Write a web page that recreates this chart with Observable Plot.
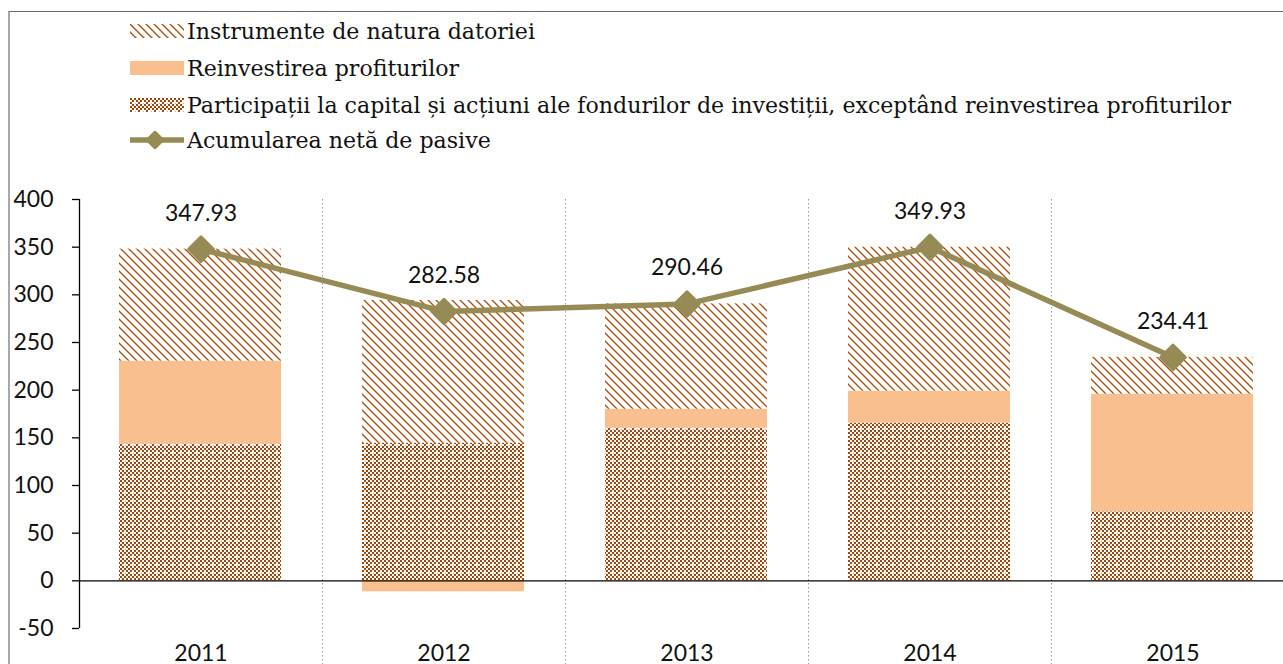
<!DOCTYPE html>
<html>
<head>
<meta charset="utf-8">
<script src="https://cdn.jsdelivr.net/npm/d3@7"></script>
<script src="https://cdn.jsdelivr.net/npm/@observablehq/plot@0.6"></script>
<style>
  html, body { margin: 0; padding: 0; background: #fff; overflow: hidden; width: 1283px; height: 664px; }
  #frame { position: absolute; left: 8px; top: 11px; width: 1400px; height: 800px; border-left: 2px solid #a8a8a8; border-top: 1px solid #6a6a6a; }
  .lg { position: absolute; left: 130px; height: 30px; display: flex; align-items: center; font-family: "DejaVu Serif", serif; font-size: 22.1px; color: #111; white-space: nowrap; }
  .lg svg { margin-right: 3px; }
  #chart { position: absolute; left: 0; top: 160px; width: 1294px; }
  #chart svg { max-width: none !important; }
</style>
</head>
<body>
<svg width="0" height="0" style="position:absolute">
  <defs>
    <pattern id="pDebt" width="8" height="8" patternUnits="userSpaceOnUse">
      <rect width="8" height="8" fill="#fff"/>
      <path d="M-2,-2L10,10M-2,6L2,10M6,-2L10,2" stroke="#A84C0E" stroke-width="1.3"/>
    </pattern>
    <pattern id="pPart" width="8" height="8" patternUnits="userSpaceOnUse">
      <rect width="8" height="8" fill="#fff"/>
      <rect x="0" y="0" width="2" height="2" fill="#A04608"/>
      <rect x="4" y="0" width="2" height="2" fill="#A04608"/>
      <rect x="2" y="2" width="2" height="2" fill="#A04608"/>
      <rect x="6" y="2" width="2" height="2" fill="#A04608"/>
      <rect x="0" y="4" width="2" height="2" fill="#A04608"/>
      <rect x="2" y="6" width="2" height="2" fill="#A04608"/>
      <rect x="6" y="6" width="2" height="2" fill="#A04608"/>
      <rect x="5" y="5" width="1" height="1" fill="#D9A57C"/>
    </pattern>
  </defs>
</svg>
<div id="frame"></div>
<div class="lg" style="top:16px"><svg width="54" height="14"><rect width="54" height="14" fill="url(#pDebt)"/></svg><span>Instrumente de natura datoriei</span></div>
<div class="lg" style="top:53px"><svg width="54" height="14"><rect width="54" height="14" fill="#F9BF8F"/></svg><span>Reinvestirea profiturilor</span></div>
<div class="lg" style="top:90px"><svg width="54" height="14"><rect width="54" height="14" fill="url(#pPart)"/></svg><span>Participații la capital și acțiuni ale fondurilor de investiții, exceptând reinvestirea profiturilor</span></div>
<div class="lg" style="top:125px"><svg width="54" height="24"><line x1="0" x2="54" y1="12" y2="12" stroke="#968B55" stroke-width="5.5"/><rect x="18" y="5" width="14" height="14" rx="2" transform="rotate(45 25 12)" fill="#968B55"/></svg><span>Acumularea netă de pasive</span></div>
<div id="chart"></div>
<script>
const years = ["2011", "2012", "2013", "2014", "2015"];
const participatii = [143.5, 144.5, 160.2, 165.4, 72.3];
const reinvestire = [87.0, -11.5, 19.8, 33.6, 123.5];
const datorie = [117.4, 149.6, 110.5, 150.9, 38.6];
const acumulare = [347.93, 282.58, 290.46, 349.93, 234.41];
const seriesNames = ["Participații la capital", "Reinvestirea profiturilor", "Instrumente de natura datoriei"];
const yTicks = [-50, 0, 50, 100, 150, 200, 250, 300, 350, 400];

const rows = [];
[participatii, reinvestire, datorie].forEach((arr, si) => {
  years.forEach((yr, i) => rows.push({year: yr, series: seriesNames[si], value: arr[i]}));
});
const lineData = years.map((yr, i) => ({year: yr, value: acumulare[i]}));

const W = 1294, mL = 79;
const step = (W - mL) / years.length;
const font = "Lato, 'Open Sans', sans-serif";

const plot = Plot.plot({
  width: W,
  height: 510,
  marginLeft: mL,
  marginRight: 0,
  marginTop: 39,
  marginBottom: 42,
  style: {fontFamily: font, fontSize: "23px", color: "#111", background: "transparent", overflow: "visible", maxWidth: "none"},
  x: {domain: years, padding: 0, label: null},
  y: {domain: [-50, 400], label: null},
  color: {domain: seriesNames, range: ["url(#pPart)", "#F9BF8F", "url(#pDebt)"]},
  marks: [
    Plot.ruleX(years.slice(0, 4), {x: d => d, dx: step / 2, insetBottom: -40, stroke: "#9a9a9a", strokeDasharray: "1.5,2.5", strokeWidth: 1}),
    Plot.barY(rows, {x: "year", y: "value", fill: "series", insetLeft: 40, insetRight: 41}),
    Plot.ruleY([0], {stroke: "#000", strokeWidth: 1.3}),
    Plot.ruleX([years[0]], {x: d => d, dx: -step / 2, stroke: "#000", strokeWidth: 1.3}),
    Plot.axisY({ticks: yTicks, tickSize: 7, tickPadding: 19, tickFormat: d => String(d), stroke: "#000", strokeWidth: 1.3}),
    Plot.axisX({tickSize: 0, tickPadding: 16}),
    Plot.line(lineData, {x: "year", y: "value", stroke: "#968B55", strokeWidth: 5.5}),
    Plot.dot(lineData, {x: "year", y: "value", symbol: "diamond2", r: 11, fill: "#968B55", stroke: "#968B55", strokeWidth: 3, strokeLinejoin: "round"}),
    Plot.text(lineData, {x: "year", y: "value", text: d => d.value.toFixed(2), dy: -36, fontSize: 23, fill: "#111"})
  ]
});
document.getElementById("chart").appendChild(plot);
</script>
</body>
</html>
